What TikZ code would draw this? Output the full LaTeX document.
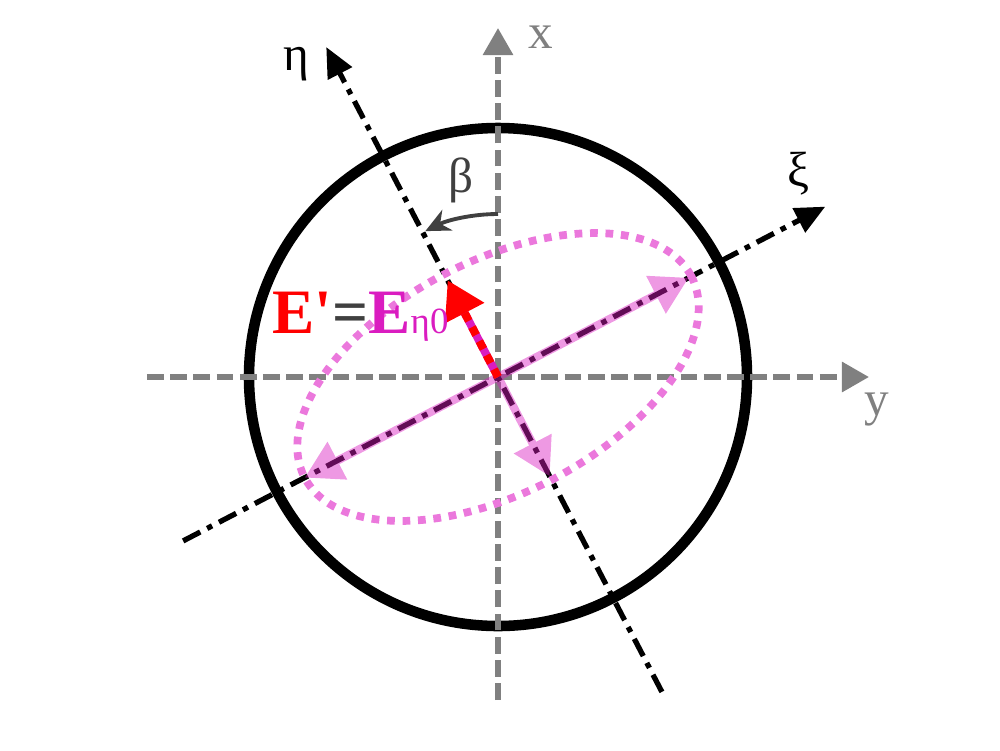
\documentclass[tikz,border=0pt]{standalone}
\usepackage{fontspec}
\setmainfont{Liberation Serif}
\usetikzlibrary{arrows.meta}

\definecolor{axisgray}{RGB}{128,128,128}
\definecolor{labelgray}{RGB}{64,64,64}
\definecolor{ellpink}{RGB}{235,120,220}
\definecolor{fieldmag}{RGB}{218,28,192}

\begin{document}
\begin{tikzpicture}[
    grayaxis/.style={axisgray, line width=1.6pt, dash pattern=on 4.8pt off 1.8pt, -{Triangle[length=7.7pt, width=8.3pt]}},
    rotaxis/.style={black, line width=1.5pt, dash pattern=on 5.5pt off 2.2pt on 1.6pt off 2.2pt, -{Triangle[length=8.5pt, width=7.5pt]}},
    pinkarrow/.style={fieldmag, line width=2.3pt},
    pinktip/.tip={Triangle[length=10.5pt, width=11.5pt]},
    lbl/.style={font=\fontsize{14}{16}\selectfont}
  ]
    \useasboundingbox (-4.98,-3.73) rectangle (5.02,3.77);
    \coordinate (o) at (0,0);

    % circle
    \draw[line width=3pt] (o) circle[radius=2.49];

    % fixed axes
    \coordinate (yl) at (-3.51,0);
    \coordinate (yr) at (3.71,0);
    \coordinate (xb) at (0,-3.23);
    \coordinate (xt) at (0,3.49);
    \draw[grayaxis] (yl) -- (yr);
    \draw[grayaxis] (xb) -- (xt);
    \node[lbl, axisgray] (xlab) at (0.43,3.40) {x};
    \node[lbl, axisgray] (ylab) at (3.79,-0.33) {y};

    % rotated axes
    \coordinate (xis) at (207.5:3.55);
    \coordinate (xie) at (27.5:3.69);
    \coordinate (etas) at (297.5:3.55);
    \coordinate (etae) at (117.5:3.72);
    \draw[rotaxis] (xis) -- (xie);
    \draw[rotaxis] (etas) -- (etae);
    \node[lbl] (xilab) at (3.00,2.03) {ξ};
    \node[lbl] (etalab) at (-2.02,3.13) {η};

    % angle beta
    \draw[labelgray, line width=1.1pt, -{Stealth[length=7pt, width=6.5pt]}] (90:1.63) arc[start angle=90, end angle=116.5, radius=1.63];
    \node[lbl, labelgray] (betalab) at (-0.37,1.97) {β};

    % polarisation ellipse
    \draw[ellpink, line width=2.2pt, dash pattern=on 2.2pt off 2.2pt, rotate=27.5] (o) ellipse[x radius=2.18, y radius=1.16];

    \coordinate (ma) at (207.5:2.18);
    \coordinate (mb) at (27.5:2.15);
    \coordinate (mn) at (297.5:1.12);
    \coordinate (ep) at (117.5:1.09);
    \begin{scope}[transparency group, opacity=0.45]
      \draw[pinkarrow, pinktip-pinktip] (ma) -- (mb);
      \draw[pinkarrow, -pinktip] (o) -- (mn);
    \end{scope}

    % field vector
    \draw[fieldmag, line width=2.3pt] (o) -- (117.5:0.8);
    \draw[red, line width=2.3pt, dash pattern=on 2.5pt off 2pt, -{Triangle[length=10.5pt, width=12pt]}] (o) -- (ep);

    \node[anchor=base west, inner sep=0pt] (eqlab) at (-2.26,0.44)
      {\fontsize{18}{20}\selectfont\bfseries\color{red}E\textquotesingle\color{labelgray}=\color{fieldmag}E\mdseries\fontsize{10.5}{12}\selectfont η0};
\end{tikzpicture}
\end{document}
